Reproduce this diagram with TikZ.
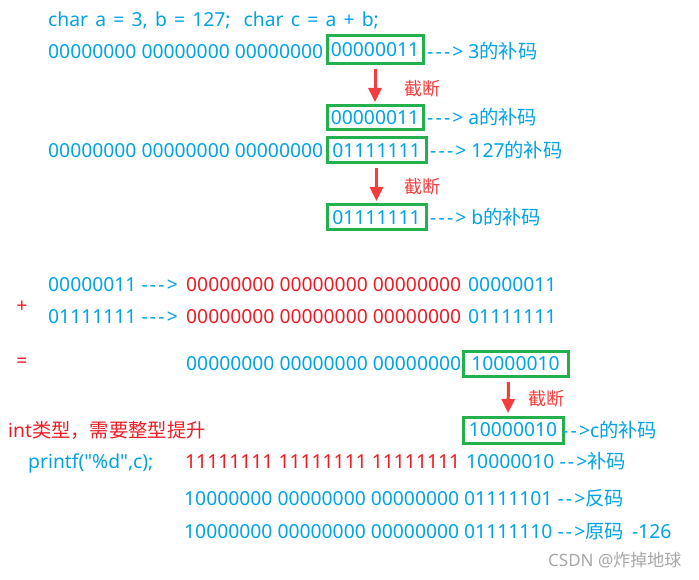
\documentclass[tikz,border=0pt]{standalone}
\usepackage{fontspec}
\usepackage{tikz}
\usetikzlibrary{arrows.meta}
\newfontfamily\latinfont{Noto Sans}
\newfontfamily\cjkfont{Noto Sans CJK SC}
\newcommand{\zh}[1]{{\cjkfont #1}}
\newcommand{\codesize}{\fontsize{19.3}{23}\selectfont}
\newcommand{\longarr}{-\kern2.2pt-\kern2.2pt-\kern2.2pt>}
\newcommand{\shortarr}{-\kern2.2pt-\kern2.2pt>}
\definecolor{codeblue}{HTML}{00A2E8}
\definecolor{txtred}{HTML}{ED1C24}
\definecolor{cutred}{HTML}{F53D3D}
\definecolor{boxgreen}{HTML}{22B14C}
\definecolor{wmgrey}{HTML}{A6A6A6}

\begin{document}
\begin{tikzpicture}[x=1pt, y=-1pt,
  bluetxt/.style={anchor=base west, inner sep=0pt, font=\latinfont\codesize, text=codeblue},
  redtxt/.style={anchor=base west, inner sep=0pt, font=\latinfont\codesize, text=txtred},
  gbox/.style={draw=boxgreen, line width=3pt, inner sep=0pt, font=\latinfont\codesize, text=codeblue},
  cutarrow/.style={-{Triangle[length=14pt, width=13pt]}, draw=cutred, fill=cutred, line width=3pt, shorten <=4pt, shorten >=2.5pt},
  cuttxt/.style={anchor=base west, inner sep=0pt, font=\cjkfont\fontsize{18}{20}\selectfont, text=cutred},
  wmark/.style={anchor=base west, inner sep=0pt, font=\latinfont\fontsize{17}{19}\selectfont, text=wmgrey},
]
\useasboundingbox (0,0) rectangle (699,580);

% declaration
\node[bluetxt] (decl) at (48,27) {\spaceskip=7.2pt\relax char a = 3, b = 127;\hspace{13pt}char c = a + b;};

% 3 -> a
\node[bluetxt] (hi3) at (48,59) {00000000 00000000 00000000};
\node[gbox, minimum width=96, minimum height=28] (box3) at (375,50) {00000011};
\node[bluetxt] (lbl3) at (427,59) {\longarr\ 3\zh{的补码}};
\node[gbox, minimum width=96, minimum height=24] (boxa) at (375,118) {00000011};
\node[bluetxt] (lbla) at (427,125) {\longarr\ a\zh{的补码}};
\draw[cutarrow] (box3) -- (boxa);
\node[cuttxt] (cut1) at (404,96) {截断};

% 127 -> b
\node[bluetxt] (hi127) at (48,158) {00000000 00000000 00000000};
\node[gbox, minimum width=99, minimum height=25] (box127) at (376.5,150.5) {01111111};
\node[bluetxt] (lbl127) at (430,158) {\longarr\ 127\zh{的补码}};
\node[gbox, minimum width=99, minimum height=25] (boxb) at (376.5,217.5) {01111111};
\node[bluetxt] (lblb) at (430,225) {\longarr\ b\zh{的补码}};
\draw[cutarrow] (box127) -- (boxb);
\node[cuttxt] (cut2) at (404,194) {截断};

% a + b
\node[bluetxt] (ina) at (48,291) {00000011 \longarr};
\node[redtxt] (exta) at (186,291) {00000000 00000000 00000000};
\node[bluetxt] (loa) at (468,291) {00000011};
\node[redtxt, anchor=center] (plus) at (22,307) {+};
\node[bluetxt] (inb) at (48,323) {01111111 \longarr};
\node[redtxt] (extb) at (186,323) {00000000 00000000 00000000};
\node[bluetxt] (lob) at (468,323) {01111111};
\node[redtxt, anchor=center] (equal) at (22,363) {=};
\node[bluetxt] (hisum) at (186,370) {00000000 00000000 00000000};
\node[gbox, minimum width=105, minimum height=25] (boxsum) at (515.5,364) {10000010};

% c
\node[gbox, minimum width=100, minimum height=26] (boxc) at (513,430) {10000010};
\node[bluetxt] (lblc) at (562,437) {\shortarr c\zh{的补码}};
\draw[cutarrow] ([xshift=-7]boxsum.south) -- ([xshift=-5]boxc.north);
\node[cuttxt] (cut3) at (528,405) {截断};

% printf
\node[redtxt] (promo) at (8,437) {int\zh{类型，需要整型提升}};
\node[bluetxt] (call) at (28,468) {printf("\%d",c);};
\node[redtxt] (ext1) at (185,468) {11111111 11111111 11111111};
\node[bluetxt] (lo1) at (466,468) {10000010 \shortarr\zh{补码}};
\node[bluetxt] (row2) at (184,505) {10000000 00000000 00000000 01111101 \shortarr\zh{反码}};
\node[bluetxt] (row3) at (184,538) {10000000 00000000 00000000 01111110 \shortarr\zh{原码}\hspace{3pt} -126};

% watermark
\node[wmark] (wm) at (548,566) {CSDN @\zh{炸掉地球}};
\end{tikzpicture}
\end{document}
